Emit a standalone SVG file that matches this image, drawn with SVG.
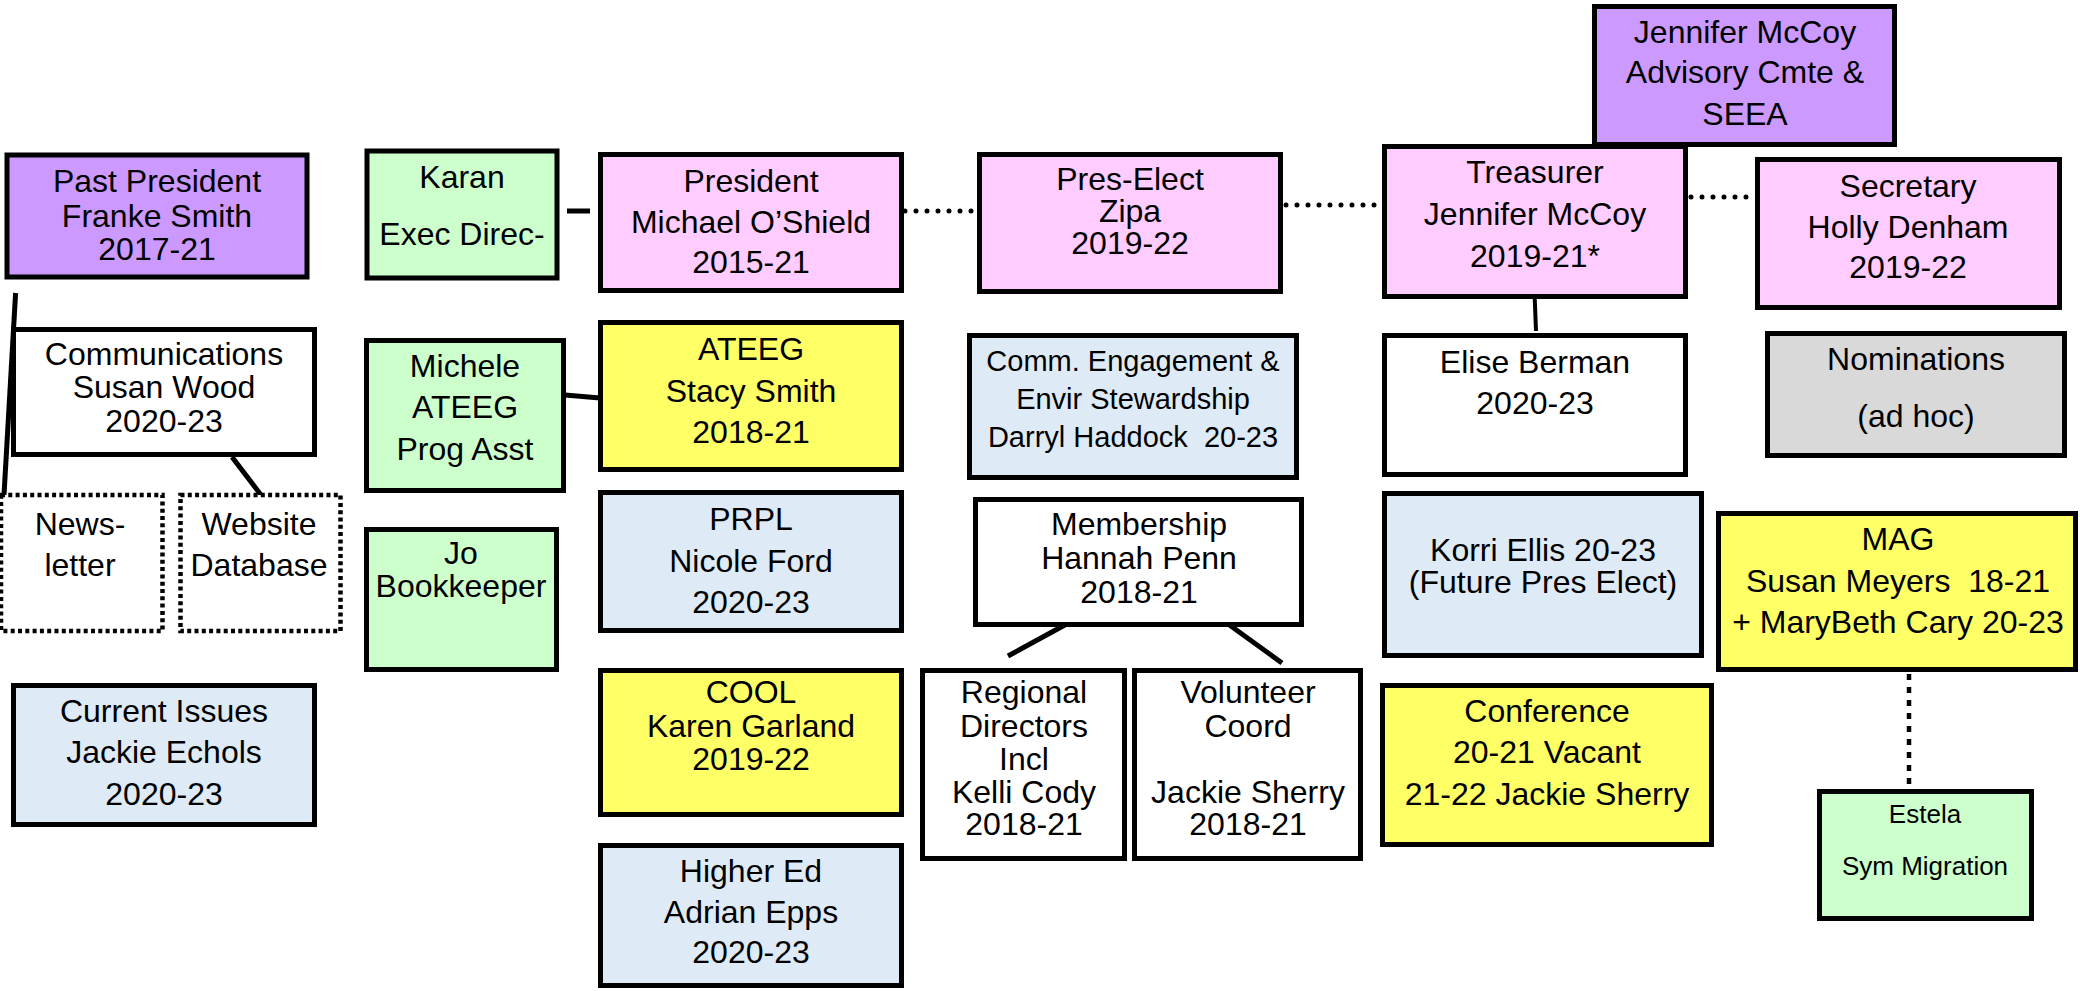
<svg xmlns="http://www.w3.org/2000/svg" width="2080" height="991" viewBox="0 0 2080 991">
<style>
rect{stroke:#000;stroke-width:5}
.dot{stroke-width:4.5;stroke-dasharray:4 3.3}
.pur{fill:#CC99FF}.pink{fill:#FFCCFF}.grn{fill:#CCFFCC}.yel{fill:#FFFF66}.blu{fill:#DEEBF7}.wht{fill:#FFFFFF}.gry{fill:#D9D9D9}
text{font-family:"Liberation Sans",Arial,sans-serif;font-size:32px;text-anchor:middle;fill:#000}
.sm{font-size:29px}.xs{font-size:26px}
.c line{stroke:#000;stroke-width:5}
.c .rd{stroke-width:5;stroke-dasharray:0 11;stroke-linecap:round}
.c .sq{stroke-width:4.5;stroke-dasharray:6 7}
</style>
<rect width="2080" height="991" fill="#fff" style="stroke:none"/>
<g class="c" id="connectors">
<line x1="567" y1="211" x2="590" y2="211"/>
<line x1="565" y1="395" x2="600" y2="398"/>
<line class="rd" x1="905" y1="211" x2="976" y2="211"/>
<line class="rd" x1="1286" y1="205" x2="1382" y2="205"/>
<line class="rd" x1="1691" y1="197" x2="1755" y2="197"/>
<line x1="1534" y1="280" x2="1536" y2="331" style="stroke-width:4"/>
<line x1="15.6" y1="293" x2="4" y2="495"/>
<line x1="232" y1="457" x2="261" y2="495"/>
<line x1="1074" y1="620" x2="1008" y2="656"/>
<line x1="1217" y1="616" x2="1282" y2="663"/>
<line class="sq" x1="1909" y1="674" x2="1909" y2="790"/>
</g>
<g id="past"><rect class="pur" x="7" y="155" width="300" height="122"/><text x="157" y="192">Past President</text><text x="157" y="227">Franke Smith</text><text x="157" y="260">2017-21</text></g>
<g id="karan"><rect class="grn" x="367" y="151" width="190" height="127"/><text x="462" y="188">Karan</text><text x="462" y="245">Exec Direc-</text></g>
<g id="president"><rect class="pink" x="600.5" y="154.5" width="301" height="136"/><text x="751" y="192">President</text><text x="751" y="233">Michael O’Shield</text><text x="751" y="273">2015-21</text></g>
<g id="preselect"><rect class="pink" x="979.5" y="154.5" width="301" height="137"/><text x="1130" y="190">Pres-Elect</text><text x="1130" y="222">Zipa</text><text x="1130" y="254">2019-22</text></g>
<g id="advisory"><rect class="pur" x="1594.5" y="6.5" width="300" height="138"/><text x="1745" y="43">Jennifer McCoy</text><text x="1745" y="83">Advisory Cmte &amp;</text><text x="1745" y="125">SEEA</text></g>
<g id="treasurer"><rect class="pink" x="1384.5" y="146.5" width="301" height="150"/><text x="1535" y="183">Treasurer</text><text x="1535" y="225">Jennifer McCoy</text><text x="1535" y="267">2019-21*</text></g>
<g id="secretary"><rect class="pink" x="1757.5" y="159.5" width="302" height="148"/><text x="1908" y="197">Secretary</text><text x="1908" y="238">Holly Denham</text><text x="1908" y="278">2019-22</text></g>
<g id="comms"><rect class="wht" x="13.5" y="329.5" width="301" height="125"/><text x="164" y="365">Communications</text><text x="164" y="398">Susan Wood</text><text x="164" y="432">2020-23</text></g>
<g id="michele"><rect class="grn" x="366.5" y="340.5" width="197" height="150"/><text x="465" y="377">Michele</text><text x="465" y="418">ATEEG</text><text x="465" y="460">Prog Asst</text></g>
<g id="ateeg"><rect class="yel" x="600.5" y="322.5" width="301" height="147"/><text x="751" y="360">ATEEG</text><text x="751" y="402">Stacy Smith</text><text x="751" y="443">2018-21</text></g>
<g id="commeng"><rect class="blu" x="969.5" y="335.5" width="327" height="142"/><text class="sm" x="1133" y="371">Comm. Engagement &amp;</text><text class="sm" x="1133" y="409">Envir Stewardship</text><text class="sm" x="1133" y="447">Darryl Haddock&#160; 20-23</text></g>
<g id="elise"><rect class="wht" x="1384.5" y="335.5" width="301" height="139"/><text x="1535" y="373">Elise Berman</text><text x="1535" y="414">2020-23</text></g>
<g id="nominations"><rect class="gry" x="1767.5" y="333.5" width="297" height="122"/><text x="1916" y="370">Nominations</text><text x="1916" y="427">(ad hoc)</text></g>
<g id="newsletter"><rect class="wht dot" x="1" y="495" width="161.5" height="136"/><text x="80" y="535">News-</text><text x="80" y="576">letter</text></g>
<g id="website"><rect class="wht dot" x="180.5" y="495" width="160" height="136"/><text x="259" y="535">Website</text><text x="259" y="576">Database</text></g>
<g id="jo"><rect class="grn" x="366.5" y="529.5" width="190" height="140"/><text x="461" y="564">Jo</text><text x="461" y="597">Bookkeeper</text></g>
<g id="prpl"><rect class="blu" x="600.5" y="492.5" width="301" height="138"/><text x="751" y="530">PRPL</text><text x="751" y="572">Nicole Ford</text><text x="751" y="613">2020-23</text></g>
<g id="membership"><rect class="wht" x="975.5" y="499.5" width="326" height="125"/><text x="1139" y="535">Membership</text><text x="1139" y="569">Hannah Penn</text><text x="1139" y="603">2018-21</text></g>
<g id="korri"><rect class="blu" x="1384.5" y="493.5" width="317" height="162"/><text x="1543" y="561">Korri Ellis 20-23</text><text x="1543" y="593">(Future Pres Elect)</text></g>
<g id="mag"><rect class="yel" x="1718.5" y="513.5" width="357" height="156"/><text x="1898" y="550">MAG</text><text x="1898" y="592">Susan Meyers&#160; 18-21</text><text x="1898" y="633">+ MaryBeth Cary 20-23</text></g>
<g id="currentissues"><rect class="blu" x="13.5" y="685.5" width="301" height="139"/><text x="164" y="722">Current Issues</text><text x="164" y="763">Jackie Echols</text><text x="164" y="805">2020-23</text></g>
<g id="cool"><rect class="yel" x="600.5" y="670.5" width="301" height="144"/><text x="751" y="703">COOL</text><text x="751" y="737">Karen Garland</text><text x="751" y="770">2019-22</text></g>
<g id="regional"><rect class="wht" x="922.5" y="670.5" width="202" height="188"/><text x="1024" y="703">Regional</text><text x="1024" y="737">Directors</text><text x="1024" y="770">Incl</text><text x="1024" y="803">Kelli Cody</text><text x="1024" y="835">2018-21</text></g>
<g id="volunteer"><rect class="wht" x="1134.5" y="670.5" width="226" height="188"/><text x="1248" y="703">Volunteer</text><text x="1248" y="737">Coord</text><text x="1248" y="803">Jackie Sherry</text><text x="1248" y="835">2018-21</text></g>
<g id="conference"><rect class="yel" x="1382.5" y="685.5" width="329" height="159"/><text x="1547" y="722">Conference</text><text x="1547" y="763">20-21 Vacant</text><text x="1547" y="805">21-22 Jackie Sherry</text></g>
<g id="estela"><rect class="grn" x="1819.5" y="791.5" width="212" height="127"/><text class="xs" x="1925" y="823">Estela</text><text class="xs" x="1925" y="875">Sym Migration</text></g>
<g id="highered"><rect class="blu" x="600.5" y="845.5" width="301" height="140"/><text x="751" y="882">Higher Ed</text><text x="751" y="923">Adrian Epps</text><text x="751" y="963">2020-23</text></g>
</svg>
